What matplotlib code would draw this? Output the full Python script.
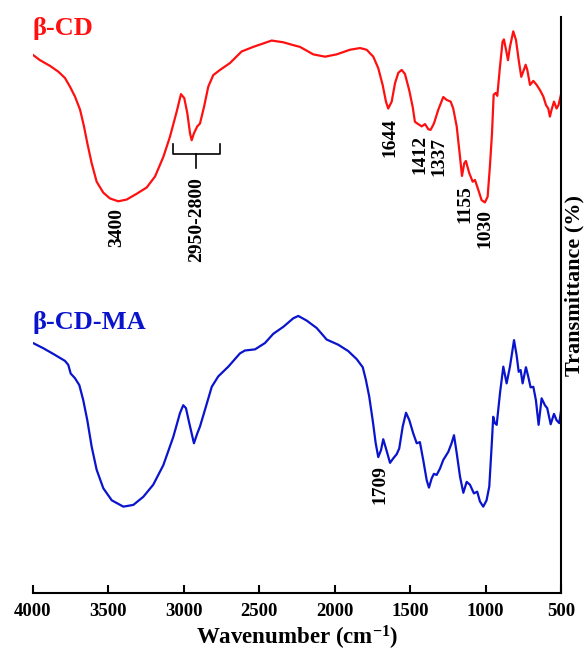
import numpy as np
import matplotlib.pyplot as plt

plt.rcParams['font.family'] = ['Liberation Serif', 'DejaVu Serif']
plt.rcParams['mathtext.fontset'] = 'custom'
plt.rcParams['mathtext.rm'] = 'Liberation Serif:bold'
plt.rcParams['mathtext.bf'] = 'Liberation Serif:bold'
plt.rcParams['mathtext.it'] = 'Liberation Serif:bold'

# FTIR spectra (wavenumber in cm-1, transmittance in arbitrary offset units)
wn_cd = [4000, 3954, 3887, 3832, 3788, 3755, 3722, 3688, 3662, 3640, 3611, 3578,
         3534, 3490, 3435, 3379, 3313, 3246, 3191, 3136, 3092, 3047, 3019, 2997,
         2977, 2959, 2948, 2933, 2911, 2893, 2866, 2838, 2805, 2760, 2694, 2617,
         2540, 2473, 2418, 2341, 2274, 2230, 2142, 2064, 1987, 1899, 1832, 1788,
         1744, 1711, 1682, 1660, 1645, 1622, 1600, 1578, 1556, 1534, 1506, 1483,
         1468, 1446, 1423, 1401, 1379, 1364, 1342, 1313, 1280, 1258, 1231, 1214,
         1191, 1169, 1156, 1141, 1130, 1108, 1085, 1070, 1048, 1026, 1004, 986,
         971, 957, 946, 933, 922, 904, 887, 878, 864, 851, 838, 816, 798, 780,
         763, 750, 734, 723, 705, 683, 661, 639, 617, 599, 584, 573, 562, 546,
         529, 516, 500]
t_cd = [93.4, 92.5, 91.5, 90.5, 89.4, 87.9, 86.2, 83.9, 81.0, 78.1, 74.6, 71.4,
        69.5, 68.5, 68.0, 68.3, 69.3, 70.4, 72.3, 75.7, 79.2, 83.6, 86.6, 85.9,
        83.3, 79.8, 78.6, 79.8, 81.0, 81.5, 84.4, 87.9, 89.9, 90.8, 92.0, 94.0,
        94.8, 95.4, 95.9, 95.6, 95.1, 94.8, 93.5, 93.1, 93.5, 94.3, 94.6, 94.3,
        93.1, 91.1, 88.2, 85.3, 84.1, 85.3, 88.5, 90.3, 90.8, 90.1, 87.3, 84.4,
        81.8, 81.4, 81.0, 81.4, 80.5, 80.4, 81.5, 83.9, 86.1, 85.6, 85.3, 84.1,
        81.0, 75.7, 72.4, 74.6, 75.0, 72.9, 71.4, 71.7, 70.0, 68.2, 67.8, 68.8,
        74.0, 79.8, 86.5, 86.8, 86.3, 91.4, 95.7, 96.1, 94.3, 92.5, 94.8, 97.5,
        96.0, 92.5, 89.6, 90.5, 91.7, 90.8, 88.2, 88.9, 88.2, 87.3, 86.2, 84.7,
        84.1, 82.7, 83.9, 85.3, 84.1, 84.7, 86.5]

wn_ma = [4000, 3932, 3865, 3788, 3766, 3750, 3722, 3693, 3667, 3640, 3611, 3578,
         3534, 3478, 3401, 3335, 3269, 3203, 3136, 3070, 3026, 3004, 2986, 2964,
         2933, 2911, 2893, 2860, 2815, 2772, 2705, 2628, 2595, 2528, 2462, 2407,
         2341, 2274, 2241, 2186, 2119, 2053, 1976, 1910, 1854, 1814, 1793, 1771,
         1748, 1728, 1711, 1693, 1678, 1660, 1633, 1611, 1589, 1572, 1549, 1527,
         1505, 1479, 1456, 1435, 1413, 1390, 1375, 1357, 1342, 1324, 1302, 1280,
         1247, 1225, 1209, 1191, 1169, 1147, 1125, 1103, 1077, 1055, 1037, 1015,
         993, 975, 957, 949, 938, 926, 904, 882, 860, 838, 811, 794, 780, 767,
         754, 732, 717, 701, 683, 666, 648, 628, 606, 591, 568, 546, 529, 511,
         500]
t_ma = [43.4, 42.5, 41.5, 40.3, 39.6, 38.1, 37.3, 36.1, 33.5, 30.0, 25.4, 21.4,
        18.2, 16.1, 15.0, 15.3, 16.7, 18.8, 22.2, 27.1, 31.2, 32.6, 32.1, 29.5,
        26.0, 27.7, 28.9, 31.8, 35.8, 37.6, 39.3, 41.6, 42.1, 42.3, 43.4, 45.0,
        46.2, 47.7, 48.1, 47.3, 46.0, 44.0, 43.1, 42.0, 40.6, 39.2, 37.0, 34.1,
        30.0, 26.0, 23.6, 24.8, 26.7, 25.1, 22.6, 23.4, 24.1, 25.1, 28.9, 31.3,
        30.0, 27.7, 26.0, 26.2, 23.1, 19.6, 18.3, 19.9, 20.7, 20.5, 21.6, 23.1,
        24.5, 26.0, 27.4, 24.3, 20.2, 17.4, 19.3, 18.8, 17.3, 17.6, 15.9, 15.0,
        16.1, 18.5, 26.6, 30.6, 29.5, 29.2, 34.7, 39.3, 36.4, 39.3, 43.9, 41.3,
        38.4, 38.7, 36.4, 39.2, 37.6, 35.7, 35.8, 33.5, 29.2, 33.8, 32.6, 32.1,
        29.3, 31.1, 30.0, 29.5, 31.5]

# peak labels: text, x position, top of text
peak_text = ['3400', '2950-2800', '1644', '1412', '1337', '1155', '1030', '1709']
peak_x = [3443, 2913, 1633, 1435, 1309, 1136, 1004, 1700]
peak_y = [66.8, 72.2, 82.5, 79.5, 79.2, 70.8, 66.7, 22.2]

# bracket over the C-H stretch region
br_x = [3072, 3072, 2760, 2760]
br_y = [78.0, 76.2, 76.2, 78.0]
stem_x = [2919, 2919]
stem_y = [76.2, 73.8]

red = '#ff1010'
blue = '#0a14cc'

fig = plt.figure(figsize=(5.84, 6.51), dpi=100)
ax = fig.add_axes([0.0565, 0.089, 0.904, 0.885])

ax.plot(wn_cd, t_cd, color=red, lw=1.6, solid_joinstyle='round')
ax.plot(wn_ma, t_ma, color=blue, lw=1.6, solid_joinstyle='round')
ax.plot(br_x, br_y, color='black', lw=1.2)
ax.plot(stem_x, stem_y, color='black', lw=1.2)

for txt, x, y in zip(peak_text, peak_x, peak_y):
    ax.text(x, y, txt, rotation=90, ha='center', va='top', fontsize=14,
            fontweight='bold')

ax.text(0.0, 1.0, 'β-CD', transform=ax.transAxes, color=red,
        fontsize=19, fontweight='bold', ha='left', va='top')
ax.text(0.0, 0.49, 'β-CD-MA', transform=ax.transAxes, color=blue,
        fontsize=19, fontweight='bold', ha='left', va='top')

ax.set_xlim(4000, 500)
ax.set_ylim(0, 100)
ax.set_xticks([4000, 3500, 3000, 2500, 2000, 1500, 1000, 500])
ax.tick_params(axis='x', direction='in', length=6, width=1.5, pad=7, labelsize=13.5)
for lab in ax.get_xticklabels():
    lab.set_fontweight('bold')
ax.set_yticks([])

ax.spines['top'].set_visible(False)
ax.spines['left'].set_visible(False)
ax.spines['bottom'].set_linewidth(1.5)
ax.spines['right'].set_linewidth(1.5)

ax.set_xlabel(r'Wavenumber (cm$^{-1}$)', fontsize=16.5, fontweight='bold', labelpad=3)
ax.yaxis.set_label_position('right')
ax.set_ylabel('Transmittance (%)', fontsize=16, fontweight='bold')
ax.yaxis.set_label_coords(1.006, 0.533)

fig.savefig('out.png', dpi=100)
